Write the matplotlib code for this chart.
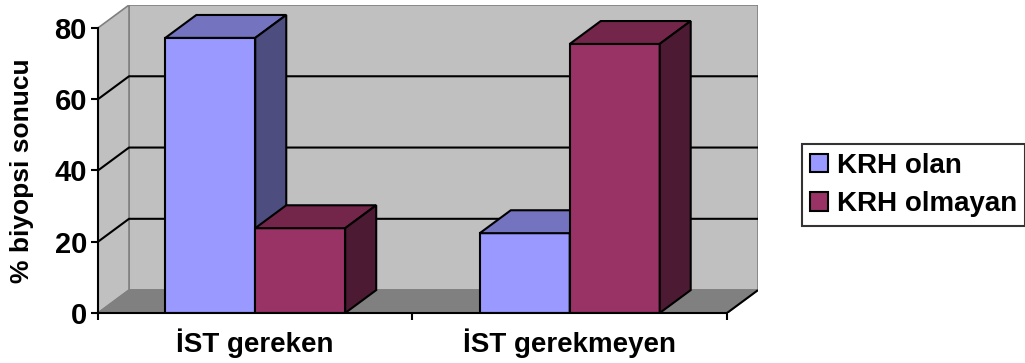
import numpy as np
import matplotlib.pyplot as plt
from matplotlib.patches import Polygon

plt.rcParams['font.family'] = ['Liberation Sans', 'DejaVu Sans']
plt.rcParams['font.weight'] = 'bold'

categories = ['İST gereken', 'İST gerekmeyen']
series_names = ['KRH olan', 'KRH olmayan']
krh_olan = [77.2, 22.4]
krh_olmayan = [23.8, 75.5]
y_ticks = [0, 20, 40, 60, 80]

# face colours: front, top, side
colors = {
    'KRH olan': ('#9999FF', '#7373BF', '#4D4D80'),
    'KRH olmayan': ('#993366', '#732649', '#4D1A33'),
}

# 3d depth offset in data units (x in category units, y in value units)
DX = 0.0986
DY = 6.43
BAR_W = 0.286
YMAX = 80

fig = plt.figure(figsize=(10.25, 3.63), dpi=100)
ax = fig.add_axes([98 / 1025, 50 / 363, 660 / 1025, 308 / 363])
ax.set_xlim(-0.5, 1.5 + DX)
ax.set_ylim(0, YMAX + DY)
ax.patch.set_visible(False)

wall = '#C0C0C0'
floor_c = '#808080'
edge = '#808080'

# back wall
ax.add_patch(Polygon([(-0.5 + DX, DY), (1.5 + DX, DY), (1.5 + DX, YMAX + DY),
                      (-0.5 + DX, YMAX + DY)], closed=True, facecolor=wall,
                     edgecolor=edge, lw=1.2, zorder=1))
# side wall
ax.add_patch(Polygon([(-0.5, 0), (-0.5 + DX, DY), (-0.5 + DX, YMAX + DY),
                      (-0.5, YMAX)], closed=True, facecolor=wall,
                     edgecolor=edge, lw=1.2, zorder=1))
# floor
ax.add_patch(Polygon([(-0.5, 0), (1.5, 0), (1.5 + DX, DY), (-0.5 + DX, DY)],
                     closed=True, facecolor=floor_c, edgecolor=edge, lw=1.2,
                     zorder=1))
ax.plot([1.5, 1.5 + DX], [0, DY], color='black', lw=1.5, zorder=2,
        solid_capstyle='butt')

# gridlines on wall
for t in y_ticks[1:-1]:
    ax.plot([-0.5, -0.5 + DX, 1.5 + DX], [t, t + DY, t + DY], color='black',
            lw=1.5, zorder=2)


def bar3d(x0, v, name):
    front, top, side = colors[name]
    x1 = x0 + BAR_W
    kw = dict(closed=True, edgecolor='black', lw=1.5, joinstyle='miter', zorder=3)
    ax.add_patch(Polygon([(x0, 0), (x1, 0), (x1, v), (x0, v)], facecolor=front, **kw))
    ax.add_patch(Polygon([(x0, v), (x1, v), (x1 + DX, v + DY), (x0 + DX, v + DY)],
                         facecolor=top, **kw))
    ax.add_patch(Polygon([(x1, 0), (x1 + DX, DY), (x1 + DX, v + DY), (x1, v)],
                         facecolor=side, **kw))


for i in range(len(categories)):
    bar3d(i - BAR_W, krh_olan[i], 'KRH olan')
    bar3d(i, krh_olmayan[i], 'KRH olmayan')

# axes
for s in ['top', 'right']:
    ax.spines[s].set_visible(False)
ax.spines['left'].set_bounds(0, YMAX)
ax.spines['bottom'].set_bounds(-0.5, 1.5)
for s in ['left', 'bottom']:
    ax.spines[s].set_linewidth(1.5)
    ax.spines[s].set_zorder(4)

ax.set_yticks(y_ticks)
ax.set_yticklabels([str(t) for t in y_ticks], fontsize=21, fontweight='bold')
ax.tick_params(axis='y', length=5, width=1.5, pad=3)

ax.set_xticks(range(len(categories)))
ax.set_xticklabels(categories, fontsize=20, fontweight='bold')
ax.set_xticks([-0.5, 0.5, 1.5], minor=True)
ax.tick_params(axis='x', which='major', length=0, pad=11)
ax.tick_params(axis='x', which='minor', length=5, width=1.5)

ax.set_ylabel('% biyopsi sonucu', fontsize=19, fontweight='bold', va='center')
ax.yaxis.set_label_coords(-76 / 660, (313 - 171) / 308)

# legend
handles = [plt.Rectangle((0, 0), 1, 1, facecolor=colors[n][0], edgecolor='black', lw=1.5)
           for n in series_names]
leg = fig.legend(handles, series_names, loc='center left',
                 bbox_to_anchor=(802 / 1025, 1 - 185 / 363),
                 prop={'size': 20, 'weight': 'bold'}, frameon=True, fancybox=False,
                 handlelength=0.65, handleheight=0.65, handletextpad=0.3,
                 borderpad=0.3, labelspacing=0.45, borderaxespad=0)
leg.get_frame().set_edgecolor('black')
leg.get_frame().set_linewidth(1.5)

fig.savefig('out.png', dpi=100)
